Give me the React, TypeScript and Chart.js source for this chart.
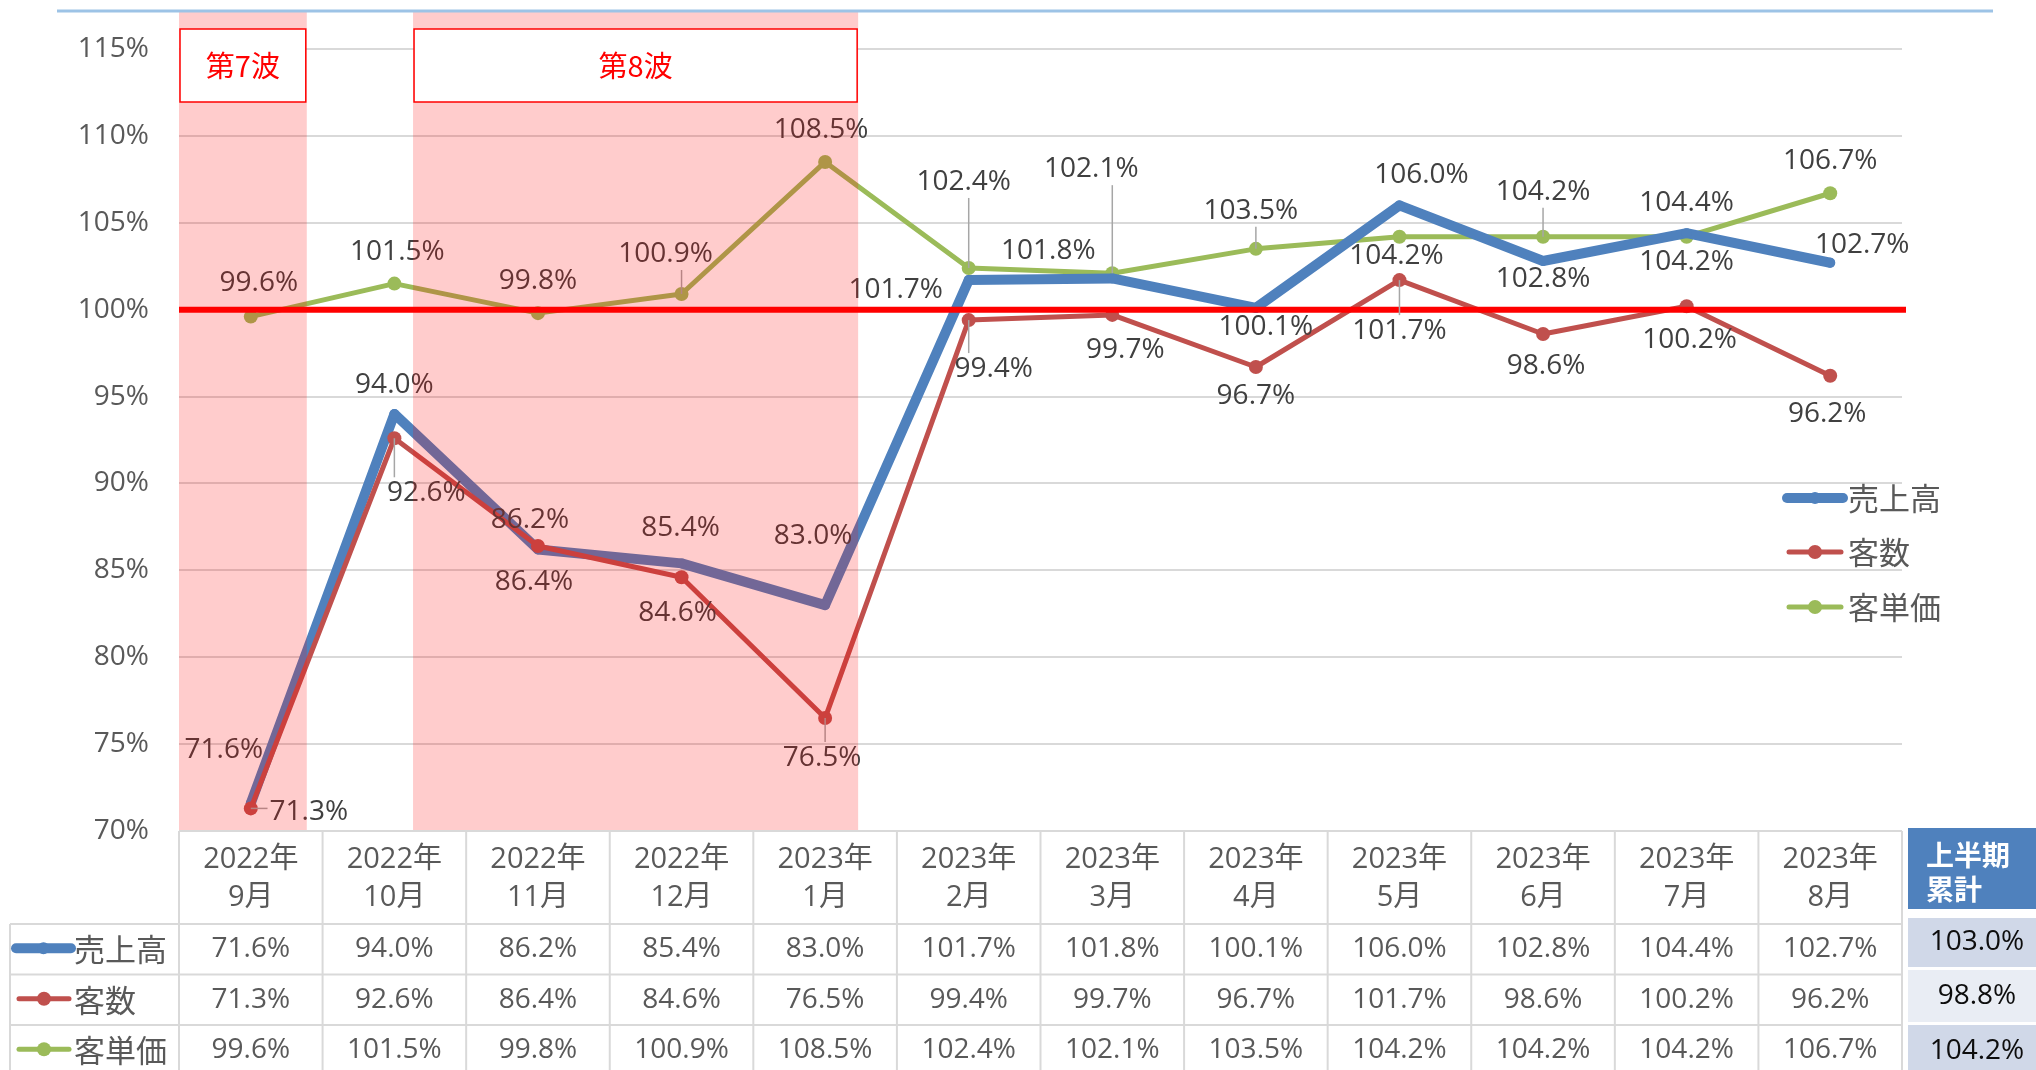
import { useEffect, useRef } from 'react';
import { Chart, registerables } from 'chart.js';

Chart.register(...registerables);

// ---------------- data ----------------
const monthLabels: string[][] = [
  ['2022年', '9月'], ['2022年', '10月'], ['2022年', '11月'], ['2022年', '12月'],
  ['2023年', '1月'], ['2023年', '2月'], ['2023年', '3月'], ['2023年', '4月'],
  ['2023年', '5月'], ['2023年', '6月'], ['2023年', '7月'], ['2023年', '8月'],
];
const seriesNames = ['売上高', '客数', '客単価'];
const salesValues = [71.6, 94.0, 86.2, 85.4, 83.0, 101.7, 101.8, 100.1, 106.0, 102.8, 104.4, 102.7];
const customerValues = [71.3, 92.6, 86.4, 84.6, 76.5, 99.4, 99.7, 96.7, 101.7, 98.6, 100.2, 96.2];
const unitPriceValues = [99.6, 101.5, 99.8, 100.9, 108.5, 102.4, 102.1, 103.5, 104.2, 104.2, 104.2, 106.7];
const summaryTitle = ['上半期', '累計'];
const halfYearTotals = [103.0, 98.8, 104.2];
const yMin = 70;
const yMax = 115;
const yStep = 5;
const baselineValue = 100;
const waves = [
  { label: '第7波', from: -0.5, to: 0.39 },
  { label: '第8波', from: 1.13, to: 4.23 },
];

// ---------------- styles / layout ----------------
const seriesColors = ['#4f81bd', '#c0504d', '#9bbb59'];
const seriesWidths = [10, 5, 5];
const seriesRadii = [5, 7, 7];
const LATIN = '"Open Sans", "Noto Sans CJK JP", sans-serif';
const CJK = '"Noto Sans CJK JP", "Open Sans", sans-serif';
const GRAY = '#595959';

// label offsets (px) relative to each point
const labelOffsets: number[][][] = [
  [[-27, -53], [0, -29], [-8, -29], [-1, -35], [-12, -69], [-73, 10], [-64, -27], [10, 19], [22, -30], [0, 18], [0, -30], [32, -18]],
  [[58, 4], [32, 55], [-4, 36], [-4, 36], [-3, 40], [25, 49], [13, 35], [0, 29], [0, 51], [3, 32], [3, 34], [-3, 38]],
  [[8, -34], [3, -32], [0, -32], [-16, -40], [-4, -32], [-5, -86], [-21, -104], [-5, -38], [-3, 19], [0, -45], [0, 25], [0, -32]],
];
const leaderFlags: boolean[][] = [
  [false, false, false, false, false, false, false, false, false, false, false, false],
  [true, true, false, false, true, true, false, false, true, false, false, false],
  [false, false, false, true, false, true, true, true, false, true, false, false],
];

function drawKey(ctx: CanvasRenderingContext2D, x1: number, x2: number, y: number, si: number) {
  ctx.save();
  ctx.strokeStyle = seriesColors[si];
  ctx.fillStyle = seriesColors[si];
  ctx.lineWidth = seriesWidths[si];
  ctx.lineCap = 'round';
  ctx.beginPath();
  ctx.moveTo(x1, y);
  ctx.lineTo(x2, y);
  ctx.stroke();
  ctx.beginPath();
  ctx.arc((x1 + x2) / 2, y, si === 0 ? 6 : 7, 0, Math.PI * 2);
  ctx.fill();
  ctx.restore();
}

const overlayPlugin = {
  id: 'overlay',
  afterDatasetsDraw(chart: any) {
    const ctx: CanvasRenderingContext2D = chart.ctx;
    const ca = chart.chartArea;
    const xs = chart.scales.x;
    const ys = chart.scales.y;
    ctx.save();
    // baseline 100%
    const by = ys.getPixelForValue(baselineValue);
    ctx.strokeStyle = '#ff0000';
    ctx.lineWidth = 6;
    ctx.beginPath();
    ctx.moveTo(ca.left, by);
    ctx.lineTo(ca.right + 4, by);
    ctx.stroke();

    // data labels
    ctx.font = `28px ${LATIN}`;
    ctx.textAlign = 'center';
    ctx.textBaseline = 'middle';
    chart.data.datasets.forEach((ds: any, di: number) => {
      const meta = chart.getDatasetMeta(di);
      meta.data.forEach((pt: any, i: number) => {
        const [dx, dy] = labelOffsets[di][i];
        const cx = pt.x + dx;
        const cy = pt.y + dy;
        const text = ds.data[i].toFixed(1) + '%';
        const w = ctx.measureText(text).width;
        const h = 26;
        if (leaderFlags[di][i]) {
          const qx = Math.min(Math.max(pt.x, cx - w / 2 - 2), cx + w / 2 + 2);
          const qy = Math.min(Math.max(pt.y, cy - h / 2 - 3), cy + h / 2 + 3);
          ctx.strokeStyle = '#a6a6a6';
          ctx.lineWidth = 1.5;
          ctx.beginPath();
          ctx.moveTo(pt.x, pt.y);
          ctx.lineTo(qx, qy);
          ctx.stroke();
        }
        ctx.fillStyle = '#404040';
        ctx.fillText(text, cx, cy);
      });
    });

    // wave bands (translucent overlay)
    const top115 = ys.getPixelForValue(yMax);
    waves.forEach((wv) => {
      const x1 = xs.getPixelForValue(wv.from);
      const x2 = xs.getPixelForValue(wv.to);
      ctx.fillStyle = 'rgba(255,0,0,0.2)';
      ctx.fillRect(x1, top115 - 37, x2 - x1, ca.bottom - (top115 - 37));
      // label box
      const bx = x1 + 1;
      const bw = x2 - x1 - 2;
      const bt = top115 - 20;
      const bh = 73;
      ctx.fillStyle = '#ffffff';
      ctx.fillRect(bx, bt, bw, bh);
      ctx.strokeStyle = '#ff0000';
      ctx.lineWidth = 1.5;
      ctx.strokeRect(bx, bt, bw, bh);
      ctx.fillStyle = '#ff0000';
      ctx.font = `400 29px ${CJK}`;
      ctx.textAlign = 'center';
      ctx.textBaseline = 'middle';
      ctx.fillText(wv.label, bx + bw / 2, bt + bh / 2);
    });
    ctx.restore();
  },
  afterDraw(chart: any) {
    const ctx: CanvasRenderingContext2D = chart.ctx;
    const ca = chart.chartArea;
    const xs = chart.scales.x;
    const n = monthLabels.length;
    ctx.save();

    // top decorative rule
    ctx.strokeStyle = '#9dc3e6';
    ctx.lineWidth = 3;
    ctx.beginPath();
    ctx.moveTo(57, 11);
    ctx.lineTo(1993, 11);
    ctx.stroke();

    // data table
    const tTop = ca.bottom;
    const headerBottom = tTop + 93;
    const rowH = 50.5;
    const tBottom = chart.height + 10;
    const leftEdge = 10;
    const rightEdge = xs.getPixelForValue(n - 0.5);
    ctx.strokeStyle = '#d9d9d9';
    ctx.lineWidth = 2;
    for (let i = 0; i <= n; i++) {
      const px = xs.getPixelForValue(i - 0.5);
      ctx.beginPath();
      ctx.moveTo(px, tTop);
      ctx.lineTo(px, tBottom);
      ctx.stroke();
    }
    ctx.beginPath();
    ctx.moveTo(leftEdge, headerBottom);
    ctx.lineTo(leftEdge, tBottom);
    ctx.stroke();
    ctx.beginPath();
    ctx.moveTo(ca.left, tTop);
    ctx.lineTo(rightEdge, tTop);
    ctx.stroke();
    for (let r = 0; r < 3; r++) {
      const yy = headerBottom + r * rowH;
      ctx.beginPath();
      ctx.moveTo(leftEdge, yy);
      ctx.lineTo(rightEdge, yy);
      ctx.stroke();
    }

    const rows = [salesValues, customerValues, unitPriceValues];
    rows.forEach((vals, r) => {
      const cy = headerBottom + r * rowH + rowH / 2;
      // key + name
      drawKey(ctx, r === 0 ? 16 : 19, r === 0 ? 71 : 69, cy - 1, r);
      ctx.fillStyle = GRAY;
      ctx.font = `31px ${CJK}`;
      ctx.textAlign = 'left';
      ctx.textBaseline = 'middle';
      ctx.fillText(seriesNames[r], 74, cy);
      // values
      ctx.font = `28px ${LATIN}`;
      ctx.textAlign = 'center';
      vals.forEach((v, i) => {
        ctx.fillText(v.toFixed(1) + '%', xs.getPixelForValue(i), cy);
      });
    });

    // summary column
    const sx = 1908;
    const sw = chart.width - sx;
    ctx.fillStyle = '#4f81bd';
    ctx.fillRect(sx, 828, sw, 81);
    ctx.fillStyle = '#ffffff';
    ctx.font = `bold 28px ${CJK}`;
    ctx.textAlign = 'left';
    ctx.textBaseline = 'middle';
    ctx.fillText(summaryTitle[0], 1926, 855);
    ctx.fillText(summaryTitle[1], 1926, 889);
    const cellTops = [918, 970, 1025];
    const cellHs = [49, 52, 52];
    const cellFills = ['#d0d8e8', '#e9edf4', '#d0d8e8'];
    halfYearTotals.forEach((v, r) => {
      ctx.fillStyle = cellFills[r];
      ctx.fillRect(sx, cellTops[r], sw, cellHs[r]);
      ctx.fillStyle = '#0d0d0d';
      ctx.font = `28px ${LATIN}`;
      ctx.textAlign = 'center';
      ctx.fillText(v.toFixed(1) + '%', 1977, cellTops[r] + cellHs[r] / 2);
    });

    // legend
    const legendYs = [498, 552, 607];
    seriesNames.forEach((name, si) => {
      drawKey(ctx, si === 0 ? 1787 : 1789, si === 0 ? 1843 : 1841, legendYs[si], si);
      ctx.fillStyle = GRAY;
      ctx.font = `31px ${CJK}`;
      ctx.textAlign = 'left';
      ctx.textBaseline = 'middle';
      ctx.fillText(name, 1848, legendYs[si]);
    });
    ctx.restore();
  },
};

export default function App() {
  const canvasRef = useRef<HTMLCanvasElement | null>(null);

  useEffect(() => {
    const canvas = canvasRef.current;
    if (!canvas) return;
    const chart = new Chart(canvas, {
      type: 'line',
      data: {
        labels: monthLabels,
        datasets: [
          {
            label: seriesNames[0],
            data: salesValues,
            borderColor: seriesColors[0],
            backgroundColor: seriesColors[0],
            borderWidth: seriesWidths[0],
            pointRadius: seriesRadii[0],
            pointBorderWidth: 0,
            borderCapStyle: 'round',
            borderJoinStyle: 'round',
            order: 1,
          },
          {
            label: seriesNames[1],
            data: customerValues,
            borderColor: seriesColors[1],
            backgroundColor: seriesColors[1],
            borderWidth: seriesWidths[1],
            pointRadius: seriesRadii[1],
            pointBorderWidth: 0,
            borderCapStyle: 'round',
            borderJoinStyle: 'round',
            order: 0,
          },
          {
            label: seriesNames[2],
            data: unitPriceValues,
            borderColor: seriesColors[2],
            backgroundColor: seriesColors[2],
            borderWidth: seriesWidths[2],
            pointRadius: seriesRadii[2],
            pointBorderWidth: 0,
            borderCapStyle: 'round',
            borderJoinStyle: 'round',
            order: 2,
          },
        ],
      },
      options: {
        responsive: false,
        animation: false,
        devicePixelRatio: 1,
        layout: { padding: { left: 0, right: 134, top: 49, bottom: 0 } },
        plugins: {
          legend: { display: false },
          tooltip: { enabled: false },
        },
        scales: {
          x: {
            type: 'category',
            offset: true,
            grid: { display: false, drawTicks: false },
            border: { display: false },
            ticks: {
              color: GRAY,
              font: { family: LATIN, size: 29, lineHeight: 1.3 },
              padding: 10,
              maxRotation: 0,
              autoSkip: false,
            },
            afterFit: (scale: any) => {
              scale.height = 239;
            },
          },
          y: {
            min: yMin,
            max: yMax,
            grid: { color: '#d9d9d9', lineWidth: 2, drawTicks: false },
            border: { display: false },
            ticks: {
              stepSize: yStep,
              color: GRAY,
              font: { family: LATIN, size: 28 },
              padding: 30,
              callback: (v: any) => `${v}%`,
            },
            afterFit: (scale: any) => {
              scale.width = 179;
            },
          },
        },
      },
      plugins: [overlayPlugin],
    } as any);
    return () => chart.destroy();
  }, []);

  return (
    <div style={{ position: 'absolute', left: 0, top: 0, width: 2036, height: 1070, background: '#ffffff' }}>
      <canvas ref={canvasRef} width={2036} height={1070} style={{ display: 'block', width: 2036, height: 1070 }} />
    </div>
  );
}
